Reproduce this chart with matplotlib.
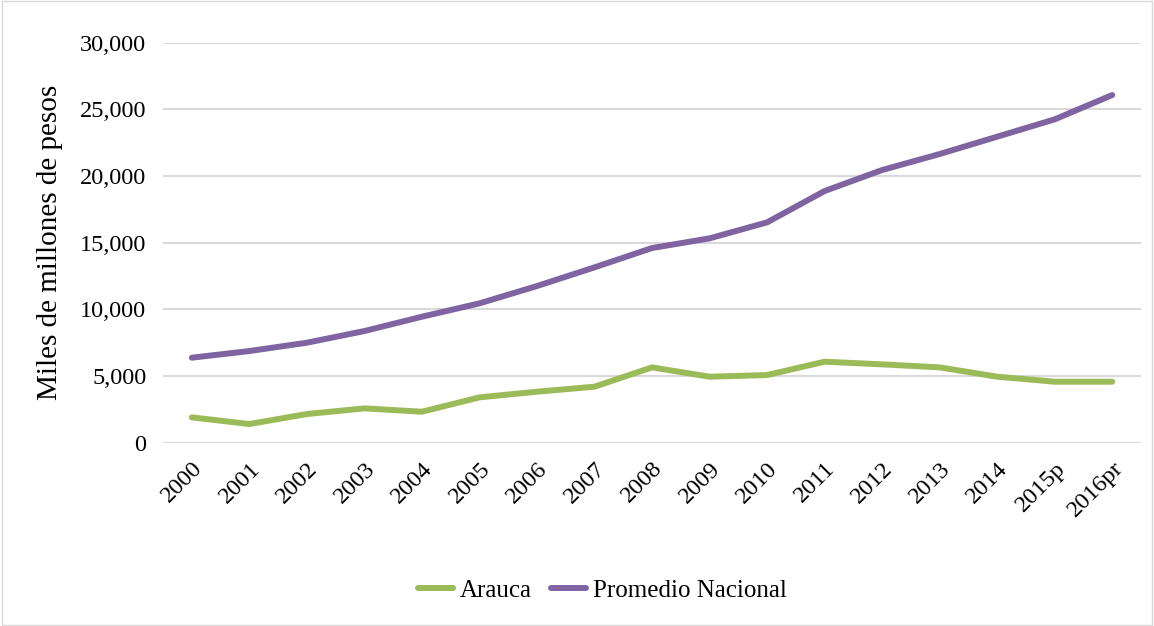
import matplotlib
matplotlib.use("Agg")
import matplotlib.pyplot as plt
from matplotlib.ticker import FuncFormatter

years = ["2000", "2001", "2002", "2003", "2004", "2005", "2006", "2007", "2008",
         "2009", "2010", "2011", "2012", "2013", "2014", "2015p", "2016pr"]
arauca = [1900, 1400, 2150, 2575, 2325, 3400, 3825, 4200, 5650,
          4950, 5075, 6075, 5875, 5650, 4950, 4575, 4575]
promedio = [6375, 6875, 7500, 8375, 9450, 10450, 11750, 13150, 14600,
            15325, 16525, 18875, 20450, 21650, 22950, 24250, 26075]
yticks = [0, 5000, 10000, 15000, 20000, 25000, 30000]

plt.rcParams['font.family'] = ['Liberation Serif', 'DejaVu Serif']

fig = plt.figure(figsize=(11.54, 6.26), dpi=100)
ax = fig.add_axes([0.1413, 0.2928, 0.9887 - 0.1413, 0.9318 - 0.2928])

x = list(range(len(years)))
ax.plot(x, arauca, color="#9BBB59", lw=4.3, label="Arauca", solid_capstyle="round")
ax.plot(x, promedio, color="#8064A2", lw=4.3, label="Promedio Nacional", solid_capstyle="round")

ax.set_xlim(-0.5, len(years) - 0.5)
ax.set_ylim(0, 30000)
ax.set_yticks(yticks)
ax.yaxis.set_major_formatter(FuncFormatter(lambda v, p: f"{int(v):,}"))
ax.set_xticks(x)
ax.set_xticklabels(years, rotation=45, ha="right", rotation_mode="anchor")
ax.tick_params(axis="both", length=0, labelsize=17.5, colors="#000000")
ax.tick_params(axis="x", pad=11)
ax.tick_params(axis="y", pad=12)
ax.grid(axis="y", color="#D9D9D9", lw=1.5)
ax.set_axisbelow(True)
for s in ax.spines.values():
    s.set_visible(False)

ax.set_ylabel("Miles de millones de pesos", fontsize=21, labelpad=12)

fig.legend(loc="center", bbox_to_anchor=(0.522, 0.057), ncol=2, frameon=False,
           fontsize=18, handlelength=1.4, columnspacing=0.8, handletextpad=0.25)

fig.patches.append(plt.Rectangle((0.002, 0.002), 0.996, 0.996, transform=fig.transFigure,
                                 fill=False, edgecolor="#D9D9D9", lw=1))

fig.savefig("out.png", dpi=100)
